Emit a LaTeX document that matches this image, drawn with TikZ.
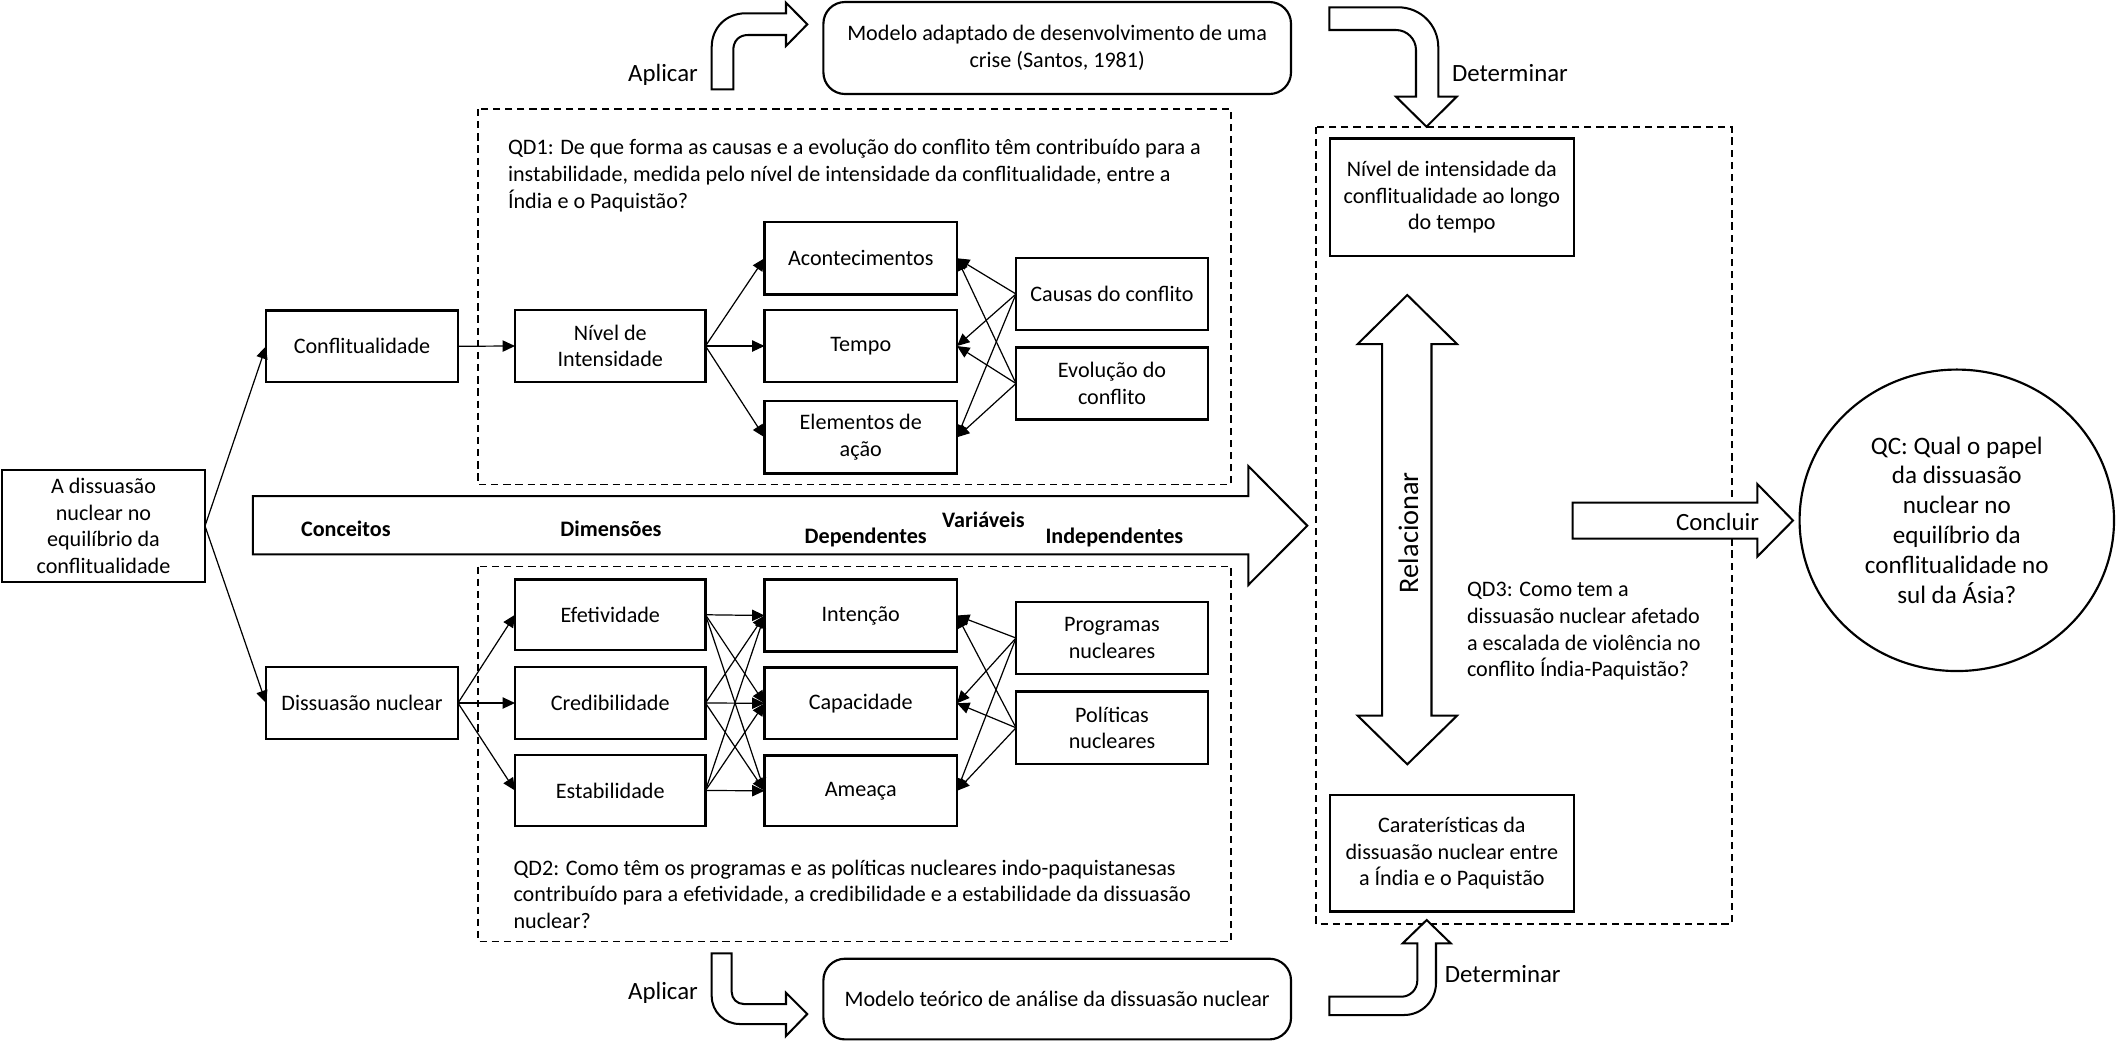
\documentclass[tikz,border=0pt]{standalone}
\usepackage{fontspec}
\setmainfont{Carlito}
\usetikzlibrary{arrows.meta,shapes.geometric}
\newcommand\myfs{\fontsize{8.2}{9.9}\selectfont}
\newcommand\myfl{\fontsize{9.2}{11}\selectfont}
\newcommand\myfq{\fontsize{9.3}{11.1}\selectfont}
\newcommand\myfr{\fontsize{10.5}{12.6}\selectfont}
\tikzset{
  box/.style={draw, line width=0.8pt, fill=white, inner sep=1pt, outer sep=0pt, align=center, font=\myfs},
  rbox/.style={box, rounded corners=8pt},
  conn/.style={line width=0.45pt, -{Triangle[length=4.6pt,width=4.2pt]}},
  dbox/.style={draw, line width=0.7pt, dash pattern=on 2.7pt off 1.8pt},
  shp/.style={draw, line width=0.75pt, fill=white, line join=miter},
  lbl/.style={inner sep=0pt, font=\myfl},
  qtext/.style={inner sep=0pt, anchor=west, align=left, font=\myfs},
  blbl/.style={inner sep=0pt, font=\myfs\bfseries}
}
\newcommand\mybox[7][box]{%
  \pgfmathsetmacro\mybw{(#5-#3)*0.3705}%
  \pgfmathsetmacro\mybh{(#6-#4)*0.3705}%
  \node[#1, minimum width=\mybw pt, minimum height=\mybh pt] (#2) at ({(#3+#5)/2},{(#4+#6)/2}) {#7};%
}
\begin{document}
\begin{tikzpicture}[x=0.3705pt, y=-0.3705pt]
\useasboundingbox (0,0) rectangle (2116,1044);

% dashed frames
\draw[dbox] (478,109) rectangle (1231,484.5);
\draw[dbox] (478,566.5) rectangle (1231,941.5);
\draw[dbox] (1316,127) rectangle (1731.6,924);

% boxes
\mybox{A}{2}{470}{205}{582}{A dissuasão\\nuclear no\\equilíbrio da\\conflitualidade}
\mybox{confl}{266}{310.5}{458}{382}{Conflitualidade}
\mybox{nivel}{515}{310}{705.5}{382}{Nível de\\Intensidade}
\mybox{acont}{764.5}{222}{957}{294.5}{Acontecimentos}
\mybox{tempo}{764.5}{310}{957}{382}{Tempo}
\mybox{elem}{764.5}{401}{957}{473.5}{Elementos de\\ação}
\mybox{causas}{1016}{258}{1208}{330}{Causas do conflito}
\mybox{evol}{1016}{347.5}{1208}{419.5}{Evolução do\\conflito}
\mybox{dissu}{266}{667}{458}{739}{Dissuasão nuclear}
\mybox{efet}{515}{579.5}{705.5}{650}{Efetividade}
\mybox{cred}{515}{667}{705.5}{739}{Credibilidade}
\mybox{estab}{515}{755}{705.5}{826}{Estabilidade}
\mybox{intenc}{764.5}{579.5}{957}{651.5}{Intenção}
\mybox{capac}{764.5}{667.5}{957}{739}{Capacidade}
\mybox{ameaca}{764.5}{755.5}{957}{826}{Ameaça}
\mybox{prog}{1016}{602}{1208}{674}{Programas\\nucleares}
\mybox{polit}{1016}{691.5}{1208}{764}{Políticas\\nucleares}
\mybox{nivr}{1330}{138.5}{1573.6}{255.7}{Nível de intensidade da\\conflitualidade ao longo\\do tempo}
\mybox{carat}{1330}{795}{1573.6}{911.5}{Caraterísticas da\\dissuasão nuclear entre\\a Índia e o Paquistão}
\mybox[rbox]{mod1}{823.4}{2}{1291}{94}{Modelo adaptado de desenvolvimento de uma\\crise (Santos, 1981)}
\mybox[rbox]{mod2}{823.4}{958.7}{1291}{1039.4}{Modelo teórico de análise da dissuasão nuclear}

\node[draw, ellipse, line width=0.8pt, inner sep=0pt, minimum width=116.5pt, minimum height=111.7pt, align=center, font=\myfq] (qc) at (1956.8,520.3)
  {QC: Qual o papel\\da dissuasão\\nuclear no\\equilíbrio da\\conflitualidade no\\sul da Ásia?};

% question texts
\node[qtext] (qd1) at (507.5,175.4) {QD1: De que forma as causas e a evolução do conflito têm contribuído para a\\instabilidade, medida pelo nível de intensidade da conflitualidade, entre a\\Índia e o Paquistão?};
\node[qtext] (qd2) at (513,894.2) {QD2: Como têm os programas e as políticas nucleares indo-paquistanesas\\contribuído para a efetividade, a credibilidade e a estabilidade da dissuasão\\nuclear?};
\node[qtext] (qd3) at (1466.5,631.5) {QD3: Como tem a\\dissuasão nuclear afetado\\a escalada de violência no\\conflito Índia-Paquistão?};

% connectors
\draw[conn] (A.east) -- (confl.west);
\draw[conn] (A.east) -- (dissu.west);
\draw[conn] (confl.east) -- (nivel.west);
\foreach \t in {acont,tempo,elem} {\draw[conn] (nivel.east) -- (\t.west);}
\foreach \s in {causas,evol} {\foreach \t in {acont,tempo,elem} {\draw[conn] (\s.west) -- (\t.east);}}
\foreach \t in {efet,cred,estab} {\draw[conn] (dissu.east) -- (\t.west);}
\foreach \s in {efet,cred,estab} {\foreach \t in {intenc,capac,ameaca} {\draw[conn] (\s.east) -- (\t.west);}}
\foreach \s in {prog,polit} {\foreach \t in {intenc,capac,ameaca} {\draw[conn] (\s.west) -- (\t.east);}}

% big arrow
\draw[shp] (252.9,496) -- (1248.3,496) -- (1248.3,466) -- (1307.3,525.7) -- (1248.3,585) -- (1248.3,554.3) -- (252.9,554.3) -- cycle;
\node[blbl] (conc) at (345.8,529.2) {Conceitos};
\node[blbl] (dim) at (611,529.2) {Dimensões};
\node[blbl] (var) at (983.4,519.8) {Variáveis};
\node[blbl] (dep) at (865.7,537.5) {Dependentes};
\node[blbl] (ind) at (1114.4,537.5) {Independentes};

% relacionar double arrow
\draw[shp] (1407.3,295) -- (1457,344) -- (1431.5,344) -- (1431.5,715.7) -- (1457,715.7) -- (1407.3,764.3) -- (1357.7,715.7) -- (1382.2,715.7) -- (1382.2,344) -- (1357.7,344) -- cycle;
\node[lbl, font=\myfr, rotate=90] (rel) at (1408.5,532.6) {Relacionar};

% concluir arrow
\draw[shp] (1572.5,502.5) -- (1757.3,502.5) -- (1757.3,484) -- (1793,520.5) -- (1757.3,556.6) -- (1757.3,538.5) -- (1572.5,538.5) -- cycle;
\node[lbl] (lconc) at (1717.5,521.5) {Concluir};

% aplicar (top)
\draw[shp] (711.7,89.3) -- (711.7,47) .. controls (711.7,28) and (726,13.3) .. (745.5,13.3) -- (786,13.3) -- (786,2.7) -- (807.3,24.3) -- (786,46) -- (786,35) -- (748,35) .. controls (739,35) and (733.3,41) .. (733.3,50) -- (733.3,89.3) -- cycle;
\node[lbl] (ap1) at (663,74.7) {Aplicar};

% determinar (top)
\draw[shp] (1329.3,7.3) -- (1398.3,7.3) .. controls (1420.5,7.3) and (1438.3,25) .. (1438.3,47.3) -- (1438.3,96.7) -- (1456.7,96.7) -- (1426.5,126.7) -- (1396,96.7) -- (1416,96.7) -- (1416,50) .. controls (1416,39) and (1407,30) .. (1396,30) -- (1329.3,30) -- cycle;
\node[lbl, anchor=west] (det1) at (1451.6,73.2) {Determinar};

% aplicar (bottom)
\draw[shp] (711.7,953.3) -- (711.7,996) .. controls (711.7,1011.5) and (724.2,1024) .. (739.7,1024) -- (786,1024) -- (786,1036) -- (807.3,1014) -- (786,992.7) -- (786,1004) -- (743.7,1004) .. controls (737,1004) and (731.7,998.7) .. (731.7,992) -- (731.7,953.3) -- cycle;
\node[lbl] (ap2) at (663,992.6) {Aplicar};

% determinar (bottom)
\draw[shp] (1329.3,1015) -- (1404,1015) .. controls (1421.7,1015) and (1436,1000.7) .. (1436,983) -- (1436,943.3) -- (1450.7,943.3) -- (1426.7,920) -- (1402.7,943.3) -- (1417.3,943.3) -- (1417.3,980.7) .. controls (1417.3,989.5) and (1410.1,996.7) .. (1401.3,996.7) -- (1329.3,996.7) -- cycle;
\node[lbl, anchor=west] (det2) at (1444.4,974) {Determinar};
\end{tikzpicture}
\end{document}
